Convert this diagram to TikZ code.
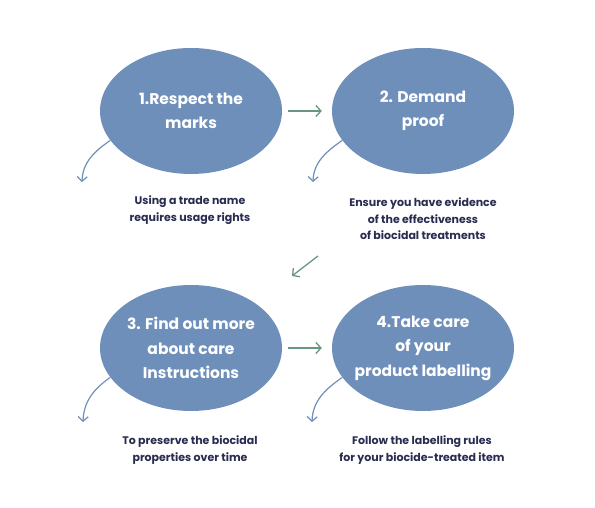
\documentclass[tikz,border=0pt]{standalone}
\usepackage{fontspec}
\setmainfont{Poppins}
\usetikzlibrary{arrows.meta, positioning, shapes.geometric}

\definecolor{stepblue}{RGB}{111,143,187}
\definecolor{stepgreen}{RGB}{104,150,128}
\definecolor{stepnavy}{RGB}{40,44,80}

\tikzset{
    stepoval/.style={ellipse, fill=stepblue, minimum width=182pt, minimum height=126pt, inner sep=0pt},
    steptext/.style={align=center, text=white, font=\fontsize{15.5}{24.5}\selectfont\bfseries},
    stepnote/.style={align=center, text=stepnavy, font=\fontsize{11}{16.5}\selectfont\bfseries},
    nextarrow/.style={-{Straight Barb[length=5pt, width=11pt]}, stepgreen, line width=1.3pt},
    notearrow/.style={-{Straight Barb[length=4.5pt, width=10pt]}, stepblue, line width=1.2pt}
}

\begin{document}
\begin{tikzpicture}[x=1pt, y=1pt]

        \useasboundingbox (0,0) rectangle (595,508);

        % Steps
        \node[stepoval, label={[steptext]center:1.Respect the\\marks}] (respect) at (191,397) {};
        \node[stepoval, label={[steptext]center:2. Demand\\proof}] (proof) at (423,397) {};
        \node[stepoval, label={[steptext]center:3. Find out more\\about care\\Instructions}] (care) at (191,160) {};
        \node[stepoval, label={[steptext]center:4.Take care\\of your\\product labelling}] (label) at (423,160) {};

        % Notes
        \node[stepnote] (respectnote) at (190,298) {Using a trade name\\requires usage rights};
        \node[stepnote] (proofnote) at (423,289) {Ensure you have evidence\\of the effectiveness\\of biocidal treatments};
        \node[stepnote] (carenote) at (190,58) {To preserve the biocidal\\properties over time};
        \node[stepnote] (labelnote) at (422,58) {Follow the labelling rules\\for your biocide-treated item};

        % Free ends
        \coordinate (respectend) at (82,326);
        \coordinate (proofend) at (313,326);
        \coordinate (careend) at (83,86);
        \coordinate (labelend) at (312,86);
        \coordinate (turnstart) at (318,252);
        \coordinate (turnend) at (292,232);

        % Arrows between steps
        \draw[nextarrow, shorten <=6pt, shorten >=10pt] (respect) -- (proof);
        \draw[nextarrow] (turnstart) -- (turnend);
        \draw[nextarrow, shorten <=6pt, shorten >=10pt] (care) -- (label);

        % Arrows to notes
        \draw[notearrow] (respect.200) to[out=215, in=88] (respectend);
        \draw[notearrow] (proof.200) to[out=215, in=88] (proofend);
        \draw[notearrow] (care.200) to[out=215, in=88] (careend);
        \draw[notearrow] (label.200) to[out=215, in=88] (labelend);

    \end{tikzpicture}
\end{document}
